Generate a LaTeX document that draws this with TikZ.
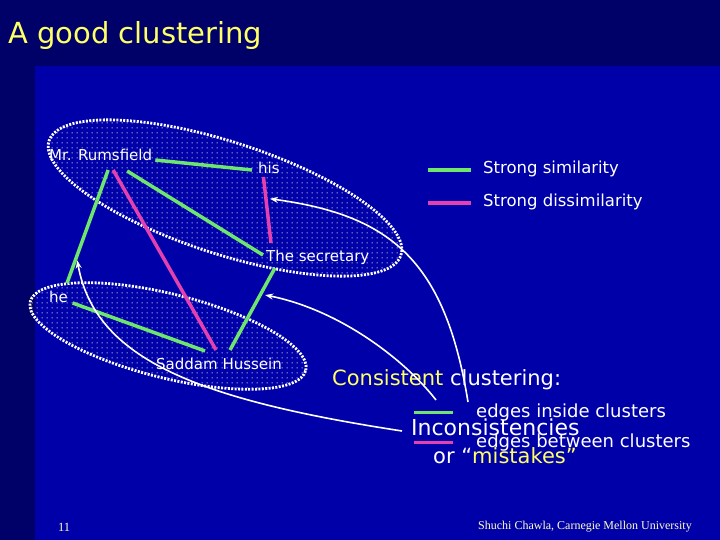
\documentclass[tikz,border=0pt]{standalone}
\usepackage{fontspec}
\setmainfont{DejaVu Sans}
\newfontfamily\footfont{Liberation Serif}
\usetikzlibrary{arrows.meta,positioning,patterns}

\definecolor{slidedark}{RGB}{0,0,105}
\definecolor{slideblue}{RGB}{0,0,168}
\definecolor{simgreen}{RGB}{110,230,110}
\definecolor{dismagenta}{RGB}{228,64,176}
\definecolor{titleyellow}{RGB}{255,255,102}
\definecolor{footyellow}{RGB}{255,255,204}

% small white dots inside a cluster
\pgfdeclarepatternformonly{clusterdots}{\pgfpointorigin}{\pgfpoint{5pt}{5pt}}{\pgfpoint{5pt}{5pt}}{%
  \pgfpathcircle{\pgfpoint{2.5pt}{2.5pt}}{0.7pt}\pgfusepath{fill}}

\tikzset{
  word/.style={text=white, font=\fontsize{15}{17}\selectfont, inner sep=1pt, anchor=west},
  remark/.style={text=white, inner sep=0pt, anchor=west},
  cluster/.style={draw=white, line width=2.8pt, dash pattern=on 2pt off 1.4pt,
    pattern=clusterdots, pattern color=white},
  simedge/.style={draw=simgreen, line width=3.5pt},
  disedge/.style={draw=dismagenta, line width=3.5pt},
  pointer/.style={draw=white, line width=1.6pt, -{Stealth[length=8pt,width=6pt]}},
}

\begin{document}
\begin{tikzpicture}[x=1pt,y=1pt]
  % slide
  \fill[slidedark] (0,0) rectangle (720,540);
  \fill[slideblue] (35,0) rectangle (720,474);
  \useasboundingbox (0,0) rectangle (720,540);
  \node[remark, text=titleyellow, font=\fontsize{29}{33}\selectfont] (title) at (8,504) {A good clustering};

  % the two clusters
  \draw[cluster, rotate around={-18:(225,342)}] (225,342) ellipse (185pt and 56pt);
  \draw[cluster, rotate around={-14:(168,204)}] (168,204) ellipse (142pt and 42pt);

  % words
  \node[word] (rumsfeld) at (48,385) {Mr. Rumsfield};
  \node[word] (his) at (257,372) {his};
  \node[word] (secretary) at (265,283) {The secretary};
  \node[word] (he) at (48,243) {he};
  \node[word] (saddam) at (155,176) {Saddam Hussein};

  % edges
  \draw[simedge] ([xshift=2pt,yshift=-5pt]rumsfeld.east) -- ([xshift=-5pt,yshift=-2pt]his.west);
  \draw[simedge] ([xshift=7.5pt,yshift=-8pt]rumsfeld.south)
    -- coordinate[pos=0.8] (rumhe) ([xshift=8.5pt,yshift=7pt]he.north);
  \draw[disedge] ([xshift=12.5pt,yshift=-8pt]rumsfeld.south) -- ([xshift=-3pt,yshift=7pt]saddam.north);
  \draw[simedge] ([xshift=26.5pt,yshift=-9pt]rumsfeld.south) -- ([xshift=-2pt,yshift=2pt]secretary.west);
  \draw[disedge] ([xshift=-5.5pt,yshift=-2pt]his.south)
    -- coordinate[pos=0.33] (hissec) ([xshift=6pt,yshift=5.5pt]secretary.north west);
  \draw[simedge] ([xshift=10pt,yshift=-2.5pt]secretary.south west)
    -- coordinate[pos=0.33] (secsad) ([xshift=11pt,yshift=7pt]saddam.north);
  \draw[simedge] ([xshift=3.5pt,yshift=-6pt]he.east) -- ([xshift=-14pt,yshift=6pt]saddam.north);

  % legend
  \node[remark, font=\fontsize{16.5}{19}\selectfont] (simlabel) at (483,371) {Strong similarity};
  \node[remark, font=\fontsize{16.5}{19}\selectfont] (dislabel) at (483,338) {Strong dissimilarity};
  \draw[simedge, line width=4pt] ([xshift=-55pt,yshift=-1pt]simlabel.west) -- ([xshift=-12pt,yshift=-1pt]simlabel.west);
  \draw[disedge, line width=4pt] ([xshift=-55pt,yshift=-1pt]dislabel.west) -- ([xshift=-12pt,yshift=-1pt]dislabel.west);

  % consistent clustering
  \node[remark, font=\fontsize{21}{24}\selectfont] (consistent) at (332,160)
    {\textcolor{titleyellow}{Consistent} clustering:};
  \node[remark, font=\fontsize{18}{20}\selectfont] (inside) at (476,127) {edges inside clusters};
  \node[remark, font=\fontsize{22}{25}\selectfont] (inconsist) at (411,113) {Inconsistencies};
  \node[remark, font=\fontsize{18}{20}\selectfont] (between) at (476,97) {edges between clusters};
  \node[remark, font=\fontsize{21}{24}\selectfont] (mistakes) at (433,84)
    {or “\textcolor{titleyellow}{mistakes”}};
  \draw[simedge, line width=3pt] ([xshift=-62pt]inside.west) -- ([xshift=-23pt]inside.west);
  \draw[disedge, line width=3pt] ([xshift=-62pt]between.west) -- ([xshift=-23pt]between.west);

  % pointers
  \coordinate (from1) at (468,138);
  \coordinate (from2) at (436,140);
  \draw[pointer] (from1) .. controls (445,280) and (390,325) .. ([xshift=4pt]hissec);
  \draw[pointer] (from2) .. controls (405,180) and (340,230) .. ([xshift=5pt]secsad);
  \draw[pointer] ([xshift=-9pt,yshift=-4pt]inconsist.west) .. controls (200,140) and (95,180) .. ([xshift=2pt]rumhe);

  % footer
  \node[remark, text=footyellow, font=\footfont\fontsize{12.5}{14}\selectfont] (slideno) at (58,13) {11};
  \node[remark, text=footyellow, font=\footfont\fontsize{12}{14}\selectfont, anchor=east] (author) at (692,13)
    {Shuchi Chawla, Carnegie Mellon University};
\end{tikzpicture}
\end{document}
